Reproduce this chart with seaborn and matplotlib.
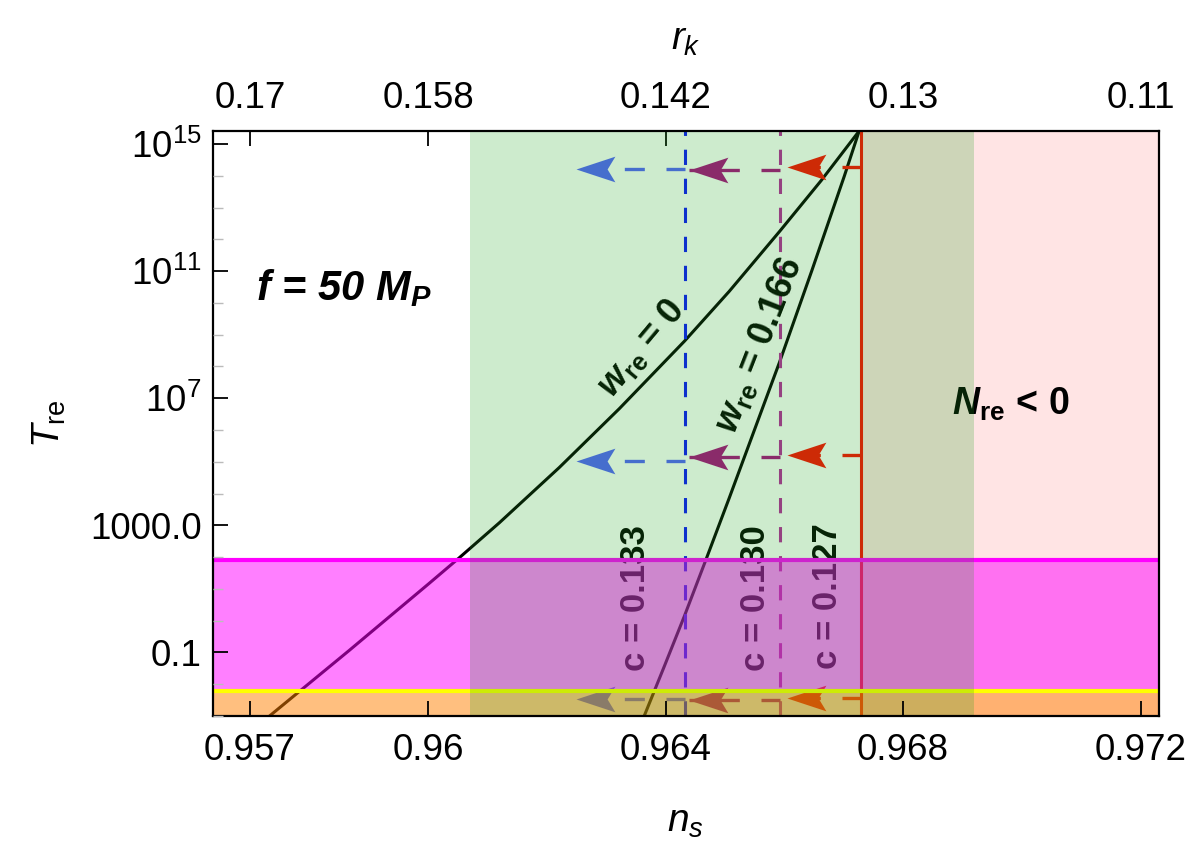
import numpy as np
import pandas as pd
import matplotlib
matplotlib.use("Agg")
import matplotlib.pyplot as plt
from matplotlib.path import Path
from matplotlib import font_manager
import seaborn as sns

# ---------------- data ----------------
# reheating temperature curves: n_s and log10(T_re)
ns_w0 = [0.95733, 0.95867, 0.96001, 0.96052, 0.96120, 0.96221, 0.96322, 0.96432,
         0.96507, 0.96592, 0.96662, 0.96726]
logT_w0 = [-3.0, -0.94, 1.16, 1.97, 3.08, 4.82, 6.67, 8.80, 10.36, 12.25, 13.85, 15.41]
ns_w166 = [0.96364, 0.96398, 0.96432, 0.96468, 0.96507, 0.96549, 0.96592, 0.96646, 0.96701, 0.96726]
logT_w166 = [-3.0, -1.43, 0.16, 1.92, 3.85, 5.97, 8.14, 11.0, 13.99, 15.41]

# vertical lines for the parameter c
c_values = ["0.133", "0.130", "0.127"]
c_ns = [0.96432, 0.96593, 0.96729]
# arrow levels (log10 T) and arrow tips (n_s) for each c line
arrow_logT = [[14.21, 5.01, -2.48], [14.18, 5.15, -2.50], [14.28, 5.20, -2.43]]
arrow_tip_ns = [0.96249, 0.96440, 0.96605]

# shaded regions
green_ns = (0.96070, 0.96920)       # observational band
nre_ns_min = 0.96729                # N_re < 0 region
magenta_logT = (-2.21, 1.92)
orange_logT = (-3.0, -2.21)

# axes ticks
x_ticks = [0.957, 0.960, 0.964, 0.968, 0.972]
x_labels = ["0.957", "0.96", "0.964", "0.968", "0.972"]
top_labels = ["0.17", "0.158", "0.142", "0.13", "0.11"]
y_major_exp = [15, 11, 7, 3, -1]
y_labels = [r"$10^{15}$", r"$10^{11}$", r"$10^{7}$", "1000.0", "0.1"]

xlim = (0.95637, 0.97231)
ylog = (-3.0, 15.41)

# ---------------- style ----------------
sns.set_theme(style="ticks")
avail = {f.name for f in font_manager.fontManager.ttflist}
narrow = 'Liberation Sans Narrow' if 'Liberation Sans Narrow' in avail else 'Liberation Sans'
tick_size = 30 if narrow == 'Liberation Sans Narrow' else 26.5

plt.rcParams['font.family'] = ['Liberation Sans', 'DejaVu Sans']
plt.rcParams['mathtext.fontset'] = 'custom'
plt.rcParams['mathtext.rm'] = 'Liberation Sans'
plt.rcParams['mathtext.it'] = 'Liberation Sans:italic'
plt.rcParams['mathtext.bf'] = 'Liberation Sans:bold'
plt.rcParams['mathtext.bfit'] = 'Liberation Sans:bold:italic'
for k in ['text.color', 'axes.labelcolor', 'xtick.color', 'ytick.color', 'axes.edgecolor']:
    plt.rcParams[k] = 'black'

fig = plt.figure(figsize=(12, 8.5), dpi=100)
ax = fig.add_axes([0.1771, 0.15765, 0.78875, 0.68823])
ax.set_yscale('log')
ax.set_xlim(*xlim)
ax.set_ylim(10 ** ylog[0], 10 ** ylog[1])

green_col = (28 / 255, 164 / 255, 28 / 255)
line_cols = ["#0a10ff", "#b8269e", "#ff0800"]
line_styles = [(0, (5, 4.5)), (0, (5, 4.5)), '-']
arrow_cols = ["#5260ff", "#aa0a80", "#ff0800"]

# notched arrow head (tip at the origin, pointing left)
head = Path([(0, 0), (1.0, 0.33), (0.80, 0), (1.0, -0.33), (0, 0)],
            [Path.MOVETO, Path.LINETO, Path.LINETO, Path.LINETO, Path.CLOSEPOLY])

# N_re < 0 region (bottom layer)
ax.axvspan(nre_ns_min, xlim[1], color="#ffe4e4", lw=0, zorder=0.5)

# curves
df0 = pd.DataFrame({"ns": ns_w0, "T": 10 ** np.array(logT_w0)})
df1 = pd.DataFrame({"ns": ns_w166, "T": 10 ** np.array(logT_w166)})
sns.lineplot(data=df0, x="ns", y="T", color="black", lw=2.2, ax=ax, sort=False, estimator=None, zorder=2)
sns.lineplot(data=df1, x="ns", y="T", color="black", lw=2.2, ax=ax, sort=False, estimator=None, zorder=2)

# vertical lines and arrows
for xv, col, ls, acol, levels, tip in zip(c_ns, line_cols, line_styles, arrow_cols, arrow_logT, arrow_tip_ns):
    ax.axvline(xv, color=col, ls=ls, lw=2.2, zorder=2)
    for lev in levels:
        ax.plot([xv, tip], [10 ** lev, 10 ** lev], color=acol, lw=2.4,
                ls=(0.3, (6, 6.5)), solid_capstyle='butt', zorder=2.1)
        ax.plot([tip], [10 ** lev], marker=head, ms=56, mew=0, color=acol, ls='none', zorder=2.2)

# texts (drawn below the translucent bands)
ax.text(0.95859, 10 ** 10.47, r"f = 50 $\mathbfit{M}_{\mathbfit{P}}$", fontsize=30,
        fontweight='bold', fontstyle='italic', ha='center', va='center', zorder=2.5)
ax.text(0.96359, 10 ** 8.58, r"$\mathbfit{w}_{\mathbf{re}}$ = 0", fontsize=26, fontweight='bold',
        rotation=50, ha='center', va='center', rotation_mode='anchor', zorder=2.5)
ax.text(0.96558, 10 ** 8.68, r"$\mathbfit{w}_{\mathbf{re}}$ = 0.166", fontsize=26, fontweight='bold',
        rotation=68.6, ha='center', va='center', rotation_mode='anchor', zorder=2.5)
ax.text(0.96981, 10 ** 6.82, r"$\mathbfit{N}_{\mathbf{re}}$ < 0", fontsize=27, fontweight='bold',
        ha='center', va='center', zorder=2.5)
for xc, cv, yl in zip([0.96349, 0.96551, 0.96672], c_values, [0.72, 0.72, 0.78]):
    ax.text(xc, 10 ** yl, "c = " + cv, fontsize=25, fontweight='bold', rotation=90,
            ha='center', va='center', zorder=2.5)

# horizontal bands
ax.axhspan(10 ** magenta_logT[0], 10 ** magenta_logT[1], color="magenta", alpha=0.5, lw=0, zorder=3)
ax.axhline(10 ** magenta_logT[1], color="magenta", lw=3, zorder=3.1)
ax.axhspan(10 ** orange_logT[0], 10 ** orange_logT[1], color="#ff8000", alpha=0.5, lw=0, zorder=3)
ax.axhline(10 ** orange_logT[1], color="yellow", lw=3, zorder=3.1)

# observational band on top
ax.axvspan(green_ns[0], green_ns[1], color=green_col, alpha=0.22, lw=0, zorder=4)

# ticks
ax.set_xticks(x_ticks)
ax.set_xticklabels(x_labels)
ax.set_yticks([10.0 ** e for e in y_major_exp])
ax.set_yticklabels(y_labels)
ax.set_yticks([10.0 ** e for e in range(-3, 16)], minor=True)
ax.yaxis.set_minor_formatter(matplotlib.ticker.NullFormatter())
ax.tick_params(axis='both', which='major', direction='in', labelsize=tick_size, length=11, width=1.3,
               color='black', right=False, top=False)
ax.tick_params(axis='x', which='major', pad=12)
ax.tick_params(axis='y', which='major', pad=8)
ax.tick_params(axis='y', which='minor', direction='in', length=7, width=1.0, color='#bbbbbb', right=False)
ax.tick_params(axis='x', which='minor', bottom=False, top=False)
for s in ax.spines.values():
    s.set_linewidth(1.6)
    s.set_color('black')
    s.set_zorder(6)
ax.xaxis.set_zorder(6)
ax.yaxis.set_zorder(6)

top = ax.secondary_xaxis('top')
top.set_xticks(x_ticks)
top.set_xticklabels(top_labels)
top.tick_params(direction='in', labelsize=tick_size, length=11, width=1.3, pad=11)
top.set_xlabel(r"$r_k$", fontsize=28, labelpad=22)

for lab in ax.get_xticklabels() + ax.get_yticklabels() + top.get_xticklabels():
    lab.set_family([narrow, 'Liberation Sans', 'DejaVu Sans'])

ax.set_xlabel(r"$n_s$", fontsize=28, labelpad=26)
ax.set_ylabel(r"$T_{\rm re}$", fontsize=28, labelpad=16)

fig.savefig("out.png", dpi=100)
